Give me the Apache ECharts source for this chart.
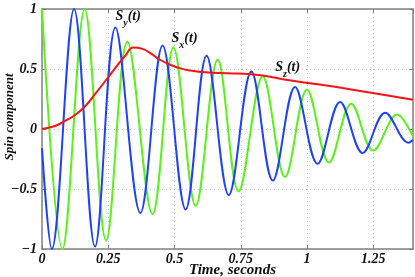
<!DOCTYPE html>
<html>
<head>
<meta charset="utf-8">
<script src="https://cdn.jsdelivr.net/npm/echarts@6/dist/echarts.min.js"></script>
<style>
html,body{margin:0;padding:0;background:#fff;}
#c{width:415px;height:277px;}
</style>
</head>
<body>
<div id="c"></div>
<script>
// Sx(t): green, read at extrema
const sxTimes  = [0, 0.077, 0.161, 0.242, 0.322, 0.417, 0.496, 0.580, 0.663, 0.742, 0.833, 0.917, 1.000, 1.083, 1.167, 1.250, 1.340, 1.400];
const sxValues = [1.0, -1.0, 1.0, -0.93, 0.73, -0.71, 0.68, -0.64, 0.58, -0.52, 0.44, -0.40, 0.33, -0.28, 0.21, -0.18, 0.12, -0.06];
// Sy(t): blue
const syTimes  = [0, 0.037, 0.121, 0.200, 0.277, 0.371, 0.455, 0.542, 0.621, 0.705, 0.790, 0.871, 0.955, 1.040, 1.125, 1.210, 1.295, 1.383, 1.400];
const syValues = [-0.16, -1.0, 1.0, -0.98, 0.845, -0.70, 0.695, -0.67, 0.61, -0.55, 0.48, -0.43, 0.35, -0.29, 0.226, -0.20, 0.135, -0.115, -0.09];
// Sz(t): red
const szTimes  = [0, 0.049, 0.087, 0.125, 0.163, 0.200, 0.239, 0.277, 0.314, 0.345, 0.379, 0.409, 0.447, 0.485, 0.523, 0.560, 0.617, 0.700, 0.788, 0.939, 1.167, 1.400];
const szValues = [0, 0.025, 0.067, 0.117, 0.19, 0.29, 0.40, 0.51, 0.61, 0.68, 0.668, 0.632, 0.575, 0.535, 0.505, 0.487, 0.472, 0.465, 0.457, 0.405, 0.33, 0.243];

const xTicks = [0, 0.25, 0.5, 0.75, 1, 1.25];
const yTicks = [-1, -0.5, 0, 0.5, 1];
const xTitle = 'Time, seconds';
const yTitle = 'Spin component';
// annotation anchors in data coordinates [t, value]
const annotations = [
  {name: 'S', sub: 'y', tail: '(t)', at: [0.277, 0.91]},
  {name: 'S', sub: 'x', tail: '(t)', at: [0.489, 0.73]},
  {name: 'S', sub: 'z', tail: '(t)', at: [0.880, 0.49]}
];

const pair = (ts, vs) => ts.map((t, i) => [t, vs[i]]);
const FONT = 'Liberation Serif';
const axisGrey = '#808080';
const labelStyle = {fontFamily: FONT, fontWeight: 'bold', fontStyle: 'italic', fontSize: 14, color: '#111'};

const chart = echarts.init(document.getElementById('c'), null, {renderer: 'canvas'});
const option = {
  animation: false,
  backgroundColor: '#fff',
  grid: {left: 42, right: 2, top: 9, bottom: 28, containLabel: false, outerBoundsMode: 'none'},
  xAxis: [{
    type: 'value', min: 0, max: 1.4, interval: 0.25,
    name: xTitle, nameLocation: 'middle', nameGap: 14, nameMoveOverlap: false,
    nameTextStyle: Object.assign({}, labelStyle, {fontSize: 15, padding: [0, 0, 0, 10]}),
    axisLine: {show: true, onZero: false, lineStyle: {color: axisGrey, width: 1.5}},
    axisTick: {show: true, inside: true, length: 4, lineStyle: {color: axisGrey}},
    axisLabel: Object.assign({}, labelStyle, {margin: 3, showMaxLabel: false,
      formatter: v => xTicks.indexOf(v) >= 0 ? String(v) : ''}),
    splitLine: {show: true, lineStyle: {color: '#c8c8c8', type: [1, 3], width: 1}}
  }, {
    type: 'value', min: 0, max: 1.4, interval: 0.25, position: 'top',
    axisLine: {show: true, onZero: false, lineStyle: {color: axisGrey, width: 1.5}},
    axisTick: {show: true, inside: true, length: 4, lineStyle: {color: axisGrey}},
    axisLabel: {show: false}, splitLine: {show: false}
  }],
  yAxis: [{
    type: 'value', min: -1, max: 1, interval: 0.5,
    name: yTitle, nameLocation: 'middle', nameGap: 26, nameMoveOverlap: false,
    nameTextStyle: Object.assign({}, labelStyle, {fontSize: 13, padding: [0, 0, 0, 24]}),
    axisLine: {show: true, onZero: false, lineStyle: {color: axisGrey, width: 1.5}},
    axisTick: {show: true, inside: true, length: 4, lineStyle: {color: axisGrey}},
    axisLabel: Object.assign({}, labelStyle, {margin: 5,
      formatter: v => yTicks.indexOf(v) >= 0 ? String(v).replace('-', '\u2212') : ''}),
    splitLine: {show: true, lineStyle: {color: '#c8c8c8', type: [1, 3], width: 1}}
  }, {
    type: 'value', min: -1, max: 1, interval: 0.5, position: 'right',
    axisLine: {show: true, onZero: false, lineStyle: {color: axisGrey, width: 1.5}},
    axisTick: {show: true, inside: true, length: 4, lineStyle: {color: axisGrey}},
    axisLabel: {show: false}, splitLine: {show: false}
  }],
  series: [
    {name: 'Sx', type: 'line', data: pair(sxTimes, sxValues), smooth: 0.36, showSymbol: false,
      lineStyle: {color: '#5cf01e', width: 2}, z: 2},
    {name: 'Sy', type: 'line', data: pair(syTimes, syValues), smooth: 0.36, showSymbol: false,
      lineStyle: {color: '#2142f2', width: 2}, z: 3},
    {name: 'Sz', type: 'line', data: pair(szTimes, szValues), smooth: 0.5, showSymbol: false,
      lineStyle: {color: '#f51414', width: 2}, z: 4}
  ]
};
chart.setOption(option);

const graphics = annotations.map(a => {
  const p = chart.convertToPixel({gridIndex: 0}, a.at);
  return {
    type: 'text', x: p[0], y: p[1], z: 10,
    style: {
      text: '{s|' + a.name + '}{b|' + a.sub + '}{s|' + a.tail + '}',
      verticalAlign: 'middle',
      rich: {
        s: {fontFamily: FONT, fontWeight: 'bold', fontStyle: 'italic', fontSize: 14, fill: '#111', verticalAlign: 'top', lineHeight: 20},
        b: {fontFamily: FONT, fontWeight: 'bold', fontStyle: 'italic', fontSize: 10, fill: '#111', verticalAlign: 'top', padding: [9, 0, 0, 0], lineHeight: 20}
      }
    }
  };
});
chart.setOption({graphic: graphics});
</script>
</body>
</html>
